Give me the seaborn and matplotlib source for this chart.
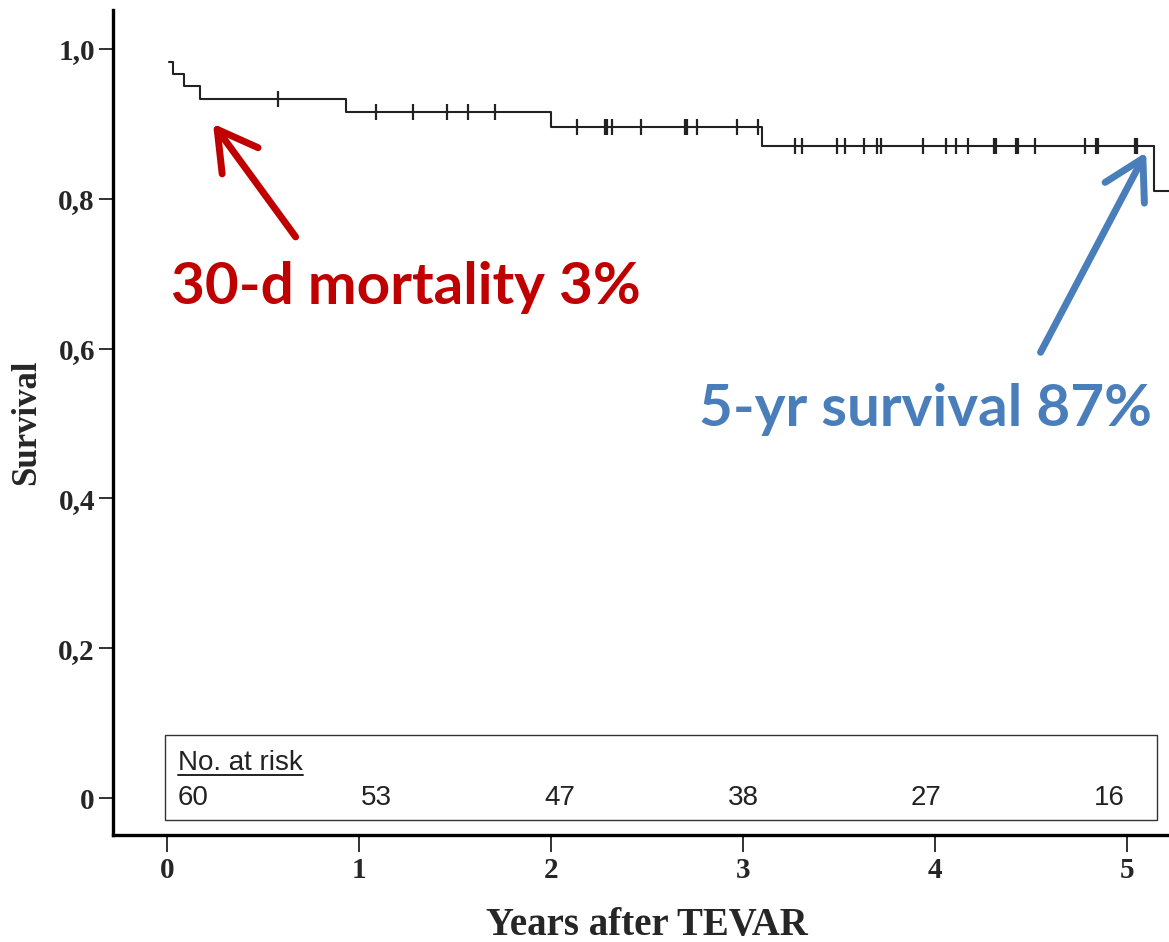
import numpy as np
import pandas as pd
import matplotlib
matplotlib.use('Agg')
import matplotlib.pyplot as plt
import seaborn as sns
from matplotlib.patches import Rectangle
from matplotlib.lines import Line2D

# Kaplan-Meier steps (years, survival)
STEP_TIMES   = [0.01, 0.03, 0.09, 0.17, 0.93, 2.00, 3.10, 5.14]
STEP_SURV    = [0.983, 0.967, 0.950, 0.933, 0.916, 0.896, 0.870, 0.810]
CENSOR_TIMES = [0.58, 1.09, 1.28, 1.46, 1.57, 1.71,
                2.135, 2.28, 2.29, 2.32, 2.47, 2.70, 2.71, 2.76, 2.97, 3.08,
                3.27, 3.31, 3.49, 3.53, 3.63, 3.70, 3.72, 3.94,
                4.06, 4.11, 4.17, 4.31, 4.32, 4.42, 4.43, 4.52,
                4.78, 4.84, 4.85, 5.04, 5.05]
RISK_COUNTS  = [60, 53, 47, 38, 27, 16]
X_TICKS      = [0, 1, 2, 3, 4, 5]
Y_TICKS      = [0, 0.2, 0.4, 0.6, 0.8, 1.0]
Y_TICKLABELS = ['0', '0,2', '0,4', '0,6', '0,8', '1,0']

RED  = '#C00000'
BLUE = '#4A7EBB'
XMIN, XMAX = -0.281, 5.219
YMIN, YMAX = -0.049, 1.052

sns.set_style('ticks')
plt.rcParams['font.family'] = ['Liberation Serif', 'DejaVu Serif']

fig = plt.figure(figsize=(11.69, 9.42), dpi=100)
ax = fig.add_axes([0.0967, 0.1136, 0.9033, 0.876])

curve = pd.DataFrame({'time': STEP_TIMES + [XMAX + 0.1],
                      'surv': STEP_SURV + [STEP_SURV[-1]]})
sns.lineplot(data=curve, x='time', y='surv', drawstyle='steps-post',
             estimator=None, color='#222222', lw=1.5, ax=ax)

idx = np.searchsorted(STEP_TIMES, CENSOR_TIMES, side='right') - 1
cens = pd.DataFrame({'time': CENSOR_TIMES,
                     'surv': np.array(STEP_SURV)[idx]})
sns.scatterplot(data=cens, x='time', y='surv', marker='|', s=130,
                color='#222222', linewidth=1.6, ax=ax)

ax.set_xlim(XMIN, XMAX)
ax.set_ylim(YMIN, YMAX)
ax.set_xticks(X_TICKS)
ax.set_xticklabels([str(t) for t in X_TICKS])
ax.set_yticks(Y_TICKS)
ax.set_yticklabels(Y_TICKLABELS)
for lab in ax.get_xticklabels() + ax.get_yticklabels():
    lab.set_fontweight('bold')
ax.tick_params(axis='x', direction='out', length=12, width=1.3, pad=4,
               labelsize=21, color='#222222')
ax.tick_params(axis='y', direction='out', length=10, width=1.3, pad=3,
               labelsize=21, color='#222222')
sns.despine(ax=ax)
for side in ('left', 'bottom'):
    ax.spines[side].set_linewidth(2.4)
    ax.spines[side].set_color('black')

ax.set_xlabel('Years after TEVAR', fontsize=28, fontweight='bold')
ax.xaxis.set_label_coords(0.506, -0.121)
ax.xaxis.label.set_va('baseline')
ax.set_ylabel('Survival', fontsize=25, fontweight='bold')
ax.yaxis.set_label_coords(-0.0814, 0.5)
ax.yaxis.label.set_va('center')

# number at risk box
ax.add_patch(Rectangle((-0.01, -0.029), 5.166, 0.113, fill=False,
                       edgecolor='#333333', lw=1.0, zorder=3))
hdr = ax.text(0.057, 0.0374, 'No. at risk', fontsize=20,
              family=['Liberation Sans', 'DejaVu Sans'], color='#222222',
              ha='left', va='baseline')
for xpos, n in zip(np.linspace(0.057, 4.83, len(RISK_COUNTS)), RISK_COUNTS):
    ax.text(xpos, -0.0093, str(n), fontsize=20,
            family=['Liberation Sans', 'DejaVu Sans'], color='#222222',
            ha='left', va='baseline')

fig.canvas.draw()
bb = hdr.get_window_extent(fig.canvas.get_renderer())
inv = fig.transFigure.inverted()
(x0, y0), (x1, _) = inv.transform([(bb.x0, bb.y0 + 1), (bb.x1, bb.y0)])
fig.add_artist(Line2D([x0, x1], [y0, y0], color='#222222', lw=1.4))

# annotations
ax.annotate('', xy=(0.24, 0.900), xytext=(0.67, 0.749),
            arrowprops=dict(arrowstyle='->,head_length=1.4,head_width=0.8',
                            lw=5, color=RED, shrinkA=0, shrinkB=0,
                            mutation_scale=20))
ax.annotate('', xy=(5.10, 0.862), xytext=(4.55, 0.595),
            arrowprops=dict(arrowstyle='->,head_length=1.4,head_width=0.8',
                            lw=5, color=BLUE, shrinkA=0, shrinkB=0,
                            mutation_scale=20))
ax.text(0.02, 0.659, '30-d mortality 3%', color=RED, fontsize=42,
        fontweight='bold', family=['Lato', 'DejaVu Sans'],
        ha='left', va='baseline')
ax.text(2.77, 0.497, '5-yr survival 87%', color=BLUE, fontsize=42,
        fontweight='bold', family=['Lato', 'DejaVu Sans'],
        ha='left', va='baseline')

fig.savefig('out.png', dpi=100)
